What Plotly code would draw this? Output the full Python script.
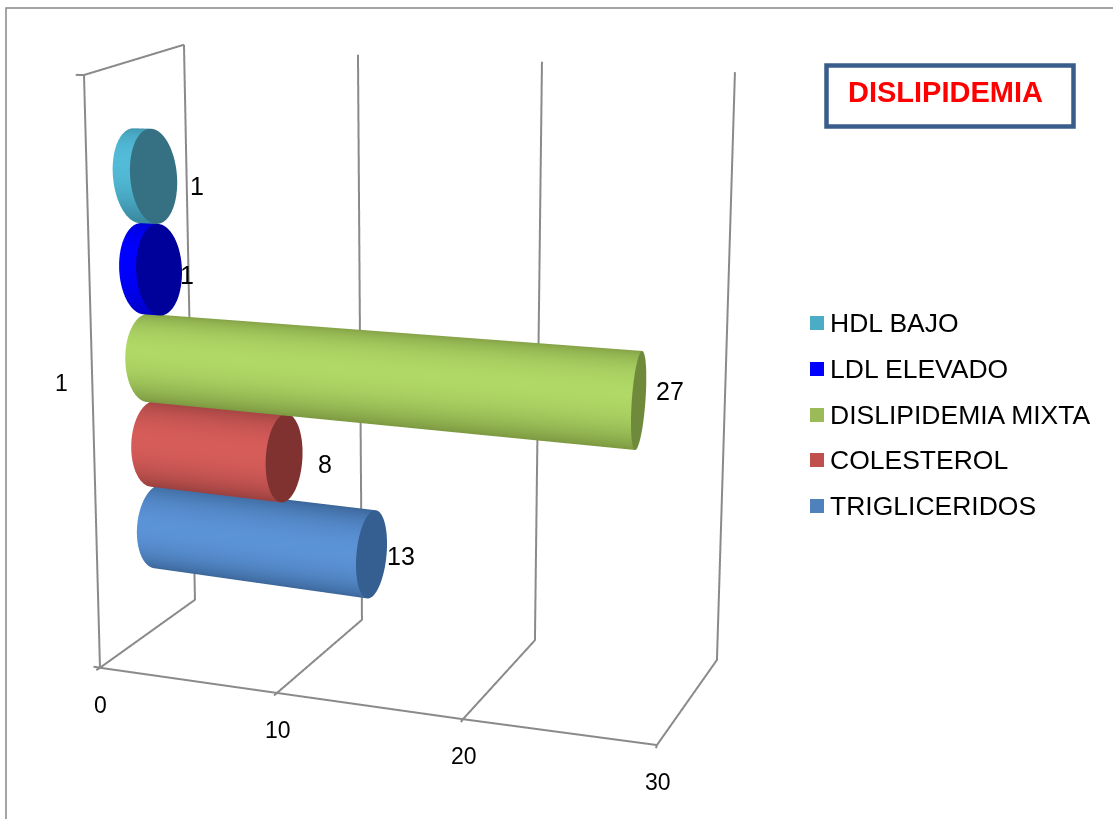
import numpy as np
import plotly.graph_objects as go

# Chart data
series_names = ["TRIGLICERIDOS", "COLESTEROL", "DISLIPIDEMIA MIXTA", "LDL ELEVADO", "HDL BAJO"]
series_values = [13, 8, 27, 1, 1]
x_tick_labels = [0, 10, 20, 30]
category_label = "1"
chart_title = "DISLIPIDEMIA"

# Colours per series
legend_colors = ["#4F81BD", "#C0504D", "#9BBB59", "#0000FF", "#4BACC6"]
side_edge = ["#3A6496", "#98403E", "#7E9A42", "#0000C8", "#3A8AA0"]
side_mid = ["#5B93D7", "#D65C59", "#AFD866", "#0000FF", "#52BBD8"]
cap_colors = ["#365F91", "#7F3230", "#6F8A3A", "#00009A", "#357183"]
GRID_COLOR = "#8A8A8A"
FONT = "Liberation Sans"

W, H = 1113, 819
GAP_WIDTH = 1.5
DEPTH_RADIUS = 0.2
HEIGHT_RADIUS = 0.5 / (len(series_values) + GAP_WIDTH)
centers = [(GAP_WIDTH / 2 + i + 0.5) / (len(series_values) + GAP_WIDTH) for i in range(len(series_values))]

# Wall and floor corners of the 3D box, in axis units, one per tick
floor_front = [(-0.599, 0.0, -0.015), (9.916, 0.0, -0.006), (19.961, 0.0, 0.003), (29.484, 0.0, 0.014)]
floor_back = [(-1.332, 1.0, -0.017), (10.031, 1.0, -0.007), (20.817, 1.0, 0.003), (31.209, 1.0, 0.016)]
wall_top = [(-0.138, 1.0, 1.036), (10.264, 1.0, 1.021), (20.357, 1.0, 1.012), (30.062, 1.0, 0.999)]
side_wall_top = (1.053, 0.0, 0.952)

fig = go.Figure()
flat = dict(ambient=1, diffuse=0, specular=0, fresnel=0, roughness=1)
theta = np.linspace(0, 2 * np.pi, 96)
bright_angle = np.pi - 0.3

# One horizontal cylinder per series, with a darker end cap
for i, (value, center) in enumerate(zip(series_values, centers)):
    body_x = np.array([np.zeros(96), np.full(96, float(value))])
    body_y = np.array([0.5 + DEPTH_RADIUS * np.cos(theta)] * 2)
    body_z = np.array([center + HEIGHT_RADIUS * np.sin(theta)] * 2)
    shade = np.clip(np.cos(theta - bright_angle), 0, 1) ** 1.6
    fig.add_trace(go.Surface(
        x=body_x, y=body_y, z=body_z, surfacecolor=np.array([shade] * 2), cmin=0, cmax=1,
        colorscale=[[0, side_edge[i]], [1, side_mid[i]]], showscale=False, hoverinfo="skip",
        name=series_names[i], lighting=flat))
    cap_x = np.full((2, 96), float(value))
    cap_y = np.array([0.5 + rr * DEPTH_RADIUS * np.cos(theta) for rr in (0.0, 1.0)])
    cap_z = np.array([center + rr * HEIGHT_RADIUS * np.sin(theta) for rr in (0.0, 1.0)])
    fig.add_trace(go.Surface(
        x=cap_x, y=cap_y, z=cap_z, surfacecolor=np.zeros((2, 96)), cmin=0, cmax=1,
        colorscale=[[0, cap_colors[i]], [1, cap_colors[i]]], showscale=False, hoverinfo="skip",
        lighting=flat))


def box_line(points):
    a = np.array(points, dtype=float)
    fig.add_trace(go.Scatter3d(x=a[:, 0], y=a[:, 1], z=a[:, 2], mode="lines",
                               line=dict(color=GRID_COLOR, width=4), hoverinfo="skip", showlegend=False))


# Gridlines run across the floor and up the back wall, with a short tick in front
for front, back, top in zip(floor_front, floor_back, wall_top):
    box_line([(front[0], front[1] - 0.03, front[2]), front, back, top])
box_line(floor_front)
box_line([wall_top[0], side_wall_top, floor_front[0]])
box_line([(floor_front[0][0] - 0.4, floor_front[0][1], floor_front[0][2]), floor_front[0]])
box_line([(side_wall_top[0] - 0.45, side_wall_top[1], side_wall_top[2]), side_wall_top])

# Value labels beside each cap and tick labels under the front edge
label_shift = [(29, -2), (40, -6), (31, 10), (27, -5), (43, -9)]
scene_notes = []
for value, center, (dx, dy) in zip(series_values, centers, label_shift):
    scene_notes.append(dict(x=value, y=0.5, z=center, text=str(value), showarrow=False, xshift=dx, yshift=dy,
                            font=dict(family=FONT, size=25, color="black")))
for tick, corner in zip(x_tick_labels, floor_front):
    scene_notes.append(dict(x=corner[0], y=corner[1], z=corner[2], text=str(tick), showarrow=False,
                            xshift=1, yshift=-37, font=dict(family=FONT, size=23, color="black")))

fig.update_layout(
    width=W, height=H, margin=dict(l=0, r=0, t=0, b=0), paper_bgcolor="white", showlegend=False,
    scene=dict(
        domain=dict(x=[59.0 / W, 1.0], y=[1 - 817.0 / H, 1 - 2.0 / H]),
        annotations=scene_notes,
        aspectmode="manual", aspectratio=dict(x=1, y=0.2804, z=0.9947),
        camera=dict(eye=dict(x=0.5332, y=-1.2284, z=0.2401),
                    center=dict(x=0.3073, y=-0.2791, z=0.0212),
                    up=dict(x=-0.0928, y=0.2280, z=0.9692)),
        xaxis=dict(range=[-3.0, 34.0], visible=False),
        yaxis=dict(range=[-0.06, 1.06], visible=False),
        zaxis=dict(range=[-0.06, 1.12], visible=False),
    ),
)


def px(x):
    return x / W


def py(y):
    return 1 - y / H


def label(x, y, text, size, color="black", bold=False, anchor="left"):
    fig.add_annotation(x=px(x), y=py(y), xref="paper", yref="paper", showarrow=False,
                       text=f"<b>{text}</b>" if bold else text, xanchor=anchor, yanchor="middle",
                       font=dict(family=FONT, size=size, color=color))


# Outer chart border and title box
fig.add_shape(type="rect", xref="paper", yref="paper", x0=px(6), x1=px(1125), y0=py(8), y1=py(830),
              line=dict(color="#868686", width=1.5))
fig.add_shape(type="rect", xref="paper", yref="paper", x0=px(826.5), x1=px(1073.5), y0=py(65.5), y1=py(126.5),
              line=dict(color="#385D8A", width=4.5), fillcolor="white")
label(945, 92, chart_title, 29, "#FF0000", True, "center")
label(61, 383, category_label, 23, anchor="center")

# Legend, listed top to bottom in reverse series order
legend_rows = [506, 460, 415, 369, 323]
for name, color, row in zip(series_names, legend_colors, legend_rows):
    fig.add_shape(type="rect", xref="paper", yref="paper", x0=px(810), x1=px(824), y0=py(row - 7), y1=py(row + 7),
                  line=dict(width=0), fillcolor=color)
    label(828, row, name, 26.5)

fig.write_html("out.html")
